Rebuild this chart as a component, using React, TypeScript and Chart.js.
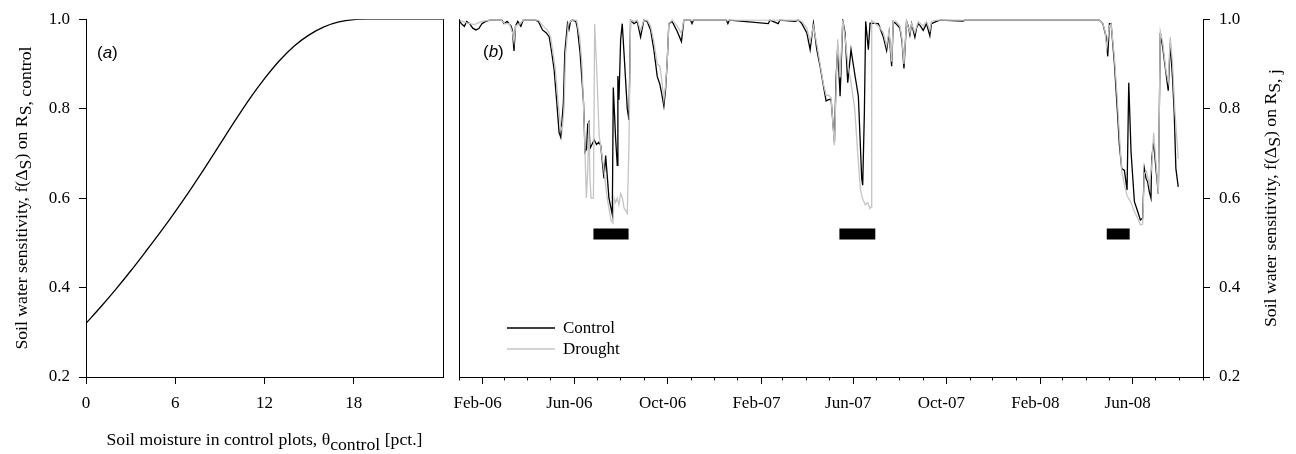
import React, { useEffect, useRef } from 'react';
import { Chart, registerables } from 'chart.js';

Chart.register(...registerables);

const SERIF = "'Liberation Serif', 'Times New Roman', serif";
const SANS = "'Liberation Sans', Arial, sans-serif";

// ---- Panel (a): sensitivity function against control soil moisture ----
const moistureValues = [0, 1, 2, 3, 4, 5, 6, 7, 8, 9, 10, 11, 12, 13, 14, 15, 16, 17, 18, 19, 20, 21, 22, 23, 24];
const sensitivityCurve = [
  0.32, 0.357, 0.396, 0.437, 0.48, 0.524, 0.57, 0.618, 0.668, 0.72, 0.772, 0.822, 0.867,
  0.907, 0.94, 0.965, 0.983, 0.994, 0.999, 1.0, 1.0, 1.0, 1.0, 1.0, 1.0,
];
const moistureTickValues = [0, 6, 12, 18];
const sensitivityTickValues = [0.2, 0.4, 0.6, 0.8, 1.0];

// ---- Panel (b): daily sensitivity, days counted from 1 Jan 2006 ----
const seriesStartUtc = Date.UTC(2006, 0, 1);
const seriesEndUtc = Date.UTC(2008, 8, 1);

const controlDays = [
  0, 3, 7, 10, 14, 18, 22, 26, 30, 35, 40, 56, 59, 63, 68, 70, 72, 74, 77, 81, 84, 100, 104,
  109.3, 114, 118, 121, 124.5, 128, 131, 133.2, 136.7, 138.5, 142, 144, 146, 148.5, 153, 155,
  158.5, 163, 165, 167, 168.5, 170, 171.5, 174, 177, 180, 183, 185.5, 189.8, 192, 196.3, 200.7,
  202, 205, 207.2, 208, 209.4, 211.6, 213.7, 216, 220.3, 222.5, 224.6, 229, 233.3, 237.7, 242,
  246.4, 250.8, 255.1, 259.5, 262.9, 265.1, 268.2, 270.3, 272.5, 274.7, 279, 285.6, 291.2, 294.3,
  303, 305, 307, 350, 352, 354, 405, 407, 418, 420, 440, 444.5, 448.8, 455.4, 459.7, 464, 468.4,
  472.7, 477.1, 480.6, 483.6, 487.1, 491.5, 493.6, 495.8, 498.9, 502.4, 505.4, 508.9, 513.2,
  518.5, 522.8, 527.2, 528.5, 530.7, 532.4, 535.9, 538.1, 549, 555.5, 559.8, 563, 566.4, 568.6,
  572, 577.2, 580, 582.5, 585.9, 588, 590.3, 592.5, 596.8, 599, 601.2, 604, 607.7, 612, 616.4,
  618.6, 625, 630, 660, 662, 835, 838.4, 842.8, 847.1, 849.3, 851.5, 853.7, 858, 861.5, 864.6,
  867.6, 871.1, 874.6, 876.8, 879.8, 884.2, 888.5, 892, 895, 897.2, 899.4, 901.6, 903.7, 905.9,
  906.8, 909.4, 912.4, 915.5, 918.1, 921.1, 925.5, 928.5, 931.1, 934.2, 936.3, 938.5, 941.6,
];
const controlSensitivity = [
  0.998, 0.99, 0.984, 0.995, 0.99, 0.98, 0.976, 0.979, 0.99, 0.995, 0.998, 0.998, 0.99, 0.995,
  0.985, 0.975, 0.929, 0.985, 0.995, 0.984, 0.998, 0.998, 0.995,
  0.976, 0.97, 0.961, 0.93, 0.888, 0.814, 0.747, 0.736, 0.814, 0.925, 0.99, 0.977, 0.995, 0.998,
  0.995, 0.98,
  0.925, 0.814, 0.703, 0.71, 0.765, 0.77, 0.711, 0.72, 0.73, 0.72, 0.725, 0.718, 0.644, 0.695,
  0.6, 0.563,
  0.847, 0.735, 0.673, 0.873, 0.82, 0.954, 0.99, 0.925, 0.8, 0.775, 0.998, 0.99, 0.995, 0.96,
  0.998,
  0.995, 0.976, 0.932, 0.872, 0.855, 0.836, 0.806, 0.84, 0.902, 0.99, 0.995, 0.973, 0.95, 0.998,
  0.998, 0.99, 0.998, 0.998, 0.99, 0.998, 0.99, 0.998, 0.99, 0.998, 0.995, 0.998, 0.99, 0.969,
  0.932, 0.991, 0.932,
  0.895, 0.851, 0.817, 0.82, 0.821, 0.725, 0.866, 0.939, 0.828, 0.998, 0.969, 0.858, 0.932,
  0.873, 0.828, 0.644, 0.629, 0.792, 0.995, 0.932, 0.991, 0.99, 0.96, 0.93, 0.97, 0.895, 0.995,
  0.99, 0.98, 0.95, 0.89, 0.995, 0.985, 0.965, 0.99, 0.96, 0.98, 0.99, 0.985, 0.975, 0.99, 0.963,
  0.99, 0.995, 0.998, 0.996, 0.998, 0.998, 0.998, 0.99, 0.961, 0.917, 0.99, 0.99, 0.902, 0.806,
  0.718,
  0.666, 0.662, 0.618, 0.858, 0.703, 0.592, 0.57, 0.551, 0.555, 0.666, 0.644, 0.636, 0.614, 0.6,
  0.688, 0.725, 0.666, 0.61, 0.969, 0.939, 0.88, 0.84, 0.947, 0.866, 0.792, 0.666, 0.625,
];

const droughtDays = [
  0, 10, 20, 30, 40, 55, 60, 66, 70, 72, 74, 80, 84, 104, 110, 116, 120, 126, 130, 133, 135,
  137.5, 139.5, 143, 148, 154, 158, 161, 164, 166.7, 168.5, 170, 171.5, 173, 176, 177.6, 180,
  183.5, 186, 190, 194, 199, 201.6, 203, 205, 207.2, 209.4, 211.6, 214, 216, 220.3, 222.5, 224.6,
  229, 233.3, 237.7, 242, 246.4, 250.8, 255.1, 259.5, 262.9, 265.1, 268.2, 270.3, 272.5, 274.7,
  279, 285.6, 291.2, 294.3, 440, 444.5, 448.8, 455.4, 459.7, 464, 468.4, 472.7, 477.1, 480.6,
  483.6, 487.1, 491.5, 493.6, 495.8, 498.9, 502.4, 505.4, 509, 513, 518, 522, 525.5, 528, 532,
  535, 538, 539.5, 540.3, 545, 549, 555.5, 559.8, 563, 566.4, 568.6, 572, 577.2, 580, 582.5,
  585.9, 590.3, 592.5, 596.8, 601.2, 607.7, 612, 616.4, 618.6, 625, 838.4, 842.8, 845.5, 848,
  851.5, 853.7, 858, 861.5, 864.6, 867.6, 871.1, 874.6, 879.8, 884.2, 888.5, 892, 895, 897.2,
  900, 903.7, 906.8, 909.4, 912.4, 915.5, 918.1, 921.1, 925.5, 928.5, 931.1, 934.2, 937, 941.6,
];
const droughtSensitivity = [
  0.998, 0.992, 0.988, 0.995, 0.998, 0.998, 0.99, 0.99, 0.97, 0.95, 0.985, 0.99, 0.998, 0.998,
  0.985, 0.975, 0.96, 0.89, 0.81, 0.76, 0.75,
  0.8, 0.92, 0.99, 0.998, 0.998, 0.96, 0.9, 0.76, 0.6, 0.66, 0.77, 0.64, 0.6, 0.6, 0.99, 0.9,
  0.74, 0.71, 0.66, 0.6, 0.55, 0.544, 0.6, 0.59, 0.6, 0.585, 0.61, 0.6, 0.578, 0.566, 0.72, 0.998,
  0.995, 0.998, 0.975, 0.998, 0.998, 0.985, 0.95, 0.9, 0.895, 0.87, 0.82, 0.85, 0.902, 0.99,
  0.998, 0.985, 0.968, 0.998, 0.998, 0.998, 0.995, 0.98, 0.95, 0.985, 0.945, 0.9, 0.855, 0.83,
  0.83, 0.825, 0.718, 0.84, 0.955, 0.87, 0.998, 0.96, 0.9, 0.86, 0.8, 0.7, 0.62, 0.6, 0.585,
  0.59, 0.577, 0.58, 0.998, 0.99, 0.985, 0.97, 0.94, 0.975, 0.905, 0.995, 0.995, 0.985, 0.955, 0.9,
  0.995, 0.97, 0.99, 0.97, 0.995, 0.985, 0.995, 0.975, 0.995, 0.998, 0.998, 0.99, 0.975, 0.935,
  0.985, 0.99, 0.915, 0.83, 0.74, 0.66, 0.63, 0.605, 0.59, 0.57, 0.555, 0.54, 0.542, 0.655,
  0.66, 0.63, 0.67, 0.746, 0.68, 0.61, 0.973, 0.95, 0.885, 0.86, 0.96, 0.9, 0.8, 0.688,
];

// Rain-exclusion periods (drought treatment), drawn as thick bars
const roofStartDays = [176, 498, 848];
const roofEndDays = [222, 545, 878];
const roofLevel = 0.52;

const monthNames = ['Jan', 'Feb', 'Mar', 'Apr', 'May', 'Jun', 'Jul', 'Aug', 'Sep', 'Oct', 'Nov', 'Dec'];
const majorMonthLabels = ['Feb-06', 'Jun-06', 'Oct-06', 'Feb-07', 'Jun-07', 'Oct-07', 'Feb-08', 'Jun-08'];

const DAY_MS = 86400000;
const seriesLengthDays = (seriesEndUtc - seriesStartUtc) / DAY_MS;

function monthTicks() {
  const out: { day: number; label: string; major: boolean }[] = [];
  for (let y = 2006; y <= 2008; y++) {
    for (let m = 0; m < 12; m++) {
      const t = Date.UTC(y, m, 1);
      if (t > seriesEndUtc) break;
      const label = `${monthNames[m]}-${String(y % 100).padStart(2, '0')}`;
      out.push({ day: (t - seriesStartUtc) / DAY_MS, label, major: majorMonthLabels.includes(label) });
    }
  }
  return out;
}

type Seg = { t: string; sub?: boolean; italic?: boolean };

function drawRich(
  ctx: CanvasRenderingContext2D,
  segs: Seg[],
  x: number,
  y: number,
  opts: { rotate?: boolean; size: number; family: string; subDy?: number; align?: 'center' | 'left' },
) {
  ctx.save();
  ctx.translate(x, y);
  if (opts.rotate) ctx.rotate(-Math.PI / 2);
  ctx.fillStyle = '#000';
  ctx.textBaseline = 'alphabetic';
  ctx.textAlign = 'left';
  const fontFor = (s: Seg) => `${s.italic ? 'italic ' : ''}${opts.size}px ${opts.family}`;
  const widths = segs.map((s) => {
    ctx.font = fontFor(s);
    return ctx.measureText(s.t).width;
  });
  const total = widths.reduce((a, b) => a + b, 0);
  let cx = opts.align === 'left' ? 0 : -total / 2;
  segs.forEach((s, i) => {
    ctx.font = fontFor(s);
    ctx.fillText(s.t, cx, s.sub ? opts.subDy ?? 4 : 0);
    cx += widths[i];
  });
  ctx.restore();
}

const align = (p: number) => Math.round(p - 0.5) + 0.5;

const LEFT_W = 450;
const RIGHT_W = 846;
const H = 454;
const TITLE_SIZE = 17.7;

export default function App() {
  const leftRef = useRef<HTMLCanvasElement>(null);
  const rightRef = useRef<HTMLCanvasElement>(null);

  useEffect(() => {
    if (!leftRef.current || !rightRef.current) return;

    const tickFont = { family: SERIF, size: 17 };

    const leftDecor = {
      id: 'leftDecor',
      afterDraw(chart: Chart) {
        const { ctx, chartArea } = chart;
        ctx.save();
        ctx.strokeStyle = '#000';
        ctx.lineWidth = 1;
        ctx.beginPath();
        const rx = align(chartArea.right);
        ctx.moveTo(rx, chartArea.top);
        ctx.lineTo(rx, chartArea.bottom);
        ctx.stroke();
        ctx.restore();

        drawRich(ctx, [{ t: '(' }, { t: 'a', italic: true }, { t: ')' }], 97, 58, {
          size: 17,
          family: SANS,
          align: 'left',
        });

        drawRich(
          ctx,
          [
            { t: 'Soil water sensitivity, f(Δ' },
            { t: 'S', sub: true },
            { t: ') on R' },
            { t: 'S, control', sub: true },
          ],
          27,
          (chartArea.top + chartArea.bottom) / 2,
          { rotate: true, size: TITLE_SIZE, family: SERIF, subDy: 4 },
        );

        drawRich(
          ctx,
          [
            { t: 'Soil moisture in control plots, θ' },
            { t: 'control', sub: true },
            { t: ' [pct.]' },
          ],
          (chartArea.left + chartArea.right) / 2,
          445,
          { size: TITLE_SIZE, family: SERIF, subDy: 5 },
        );
      },
    };

    const left = new Chart(leftRef.current, {
      type: 'line',
      data: {
        datasets: [
          {
            data: moistureValues.map((x, i) => ({ x, y: sensitivityCurve[i] })),
            borderColor: '#000',
            borderWidth: 1.3,
            pointRadius: 0,
            cubicInterpolationMode: 'monotone',
            fill: false,
          },
        ],
      },
      options: {
        responsive: false,
        animation: false,
        events: [],
        layout: { padding: { left: 0, top: 16, right: 7, bottom: 0 } },
        plugins: { legend: { display: false }, tooltip: { enabled: false } },
        scales: {
          x: {
            type: 'linear',
            min: 0,
            max: 24,
            afterBuildTicks: (s: any) => {
              s.ticks = moistureTickValues.map((v) => ({ value: v }));
            },
            afterFit: (s: any) => {
              s.height = 77;
            },
            ticks: { font: tickFont, color: '#000', padding: 9, maxRotation: 0, autoSkip: false },
            grid: { drawOnChartArea: false, tickLength: 7, tickColor: '#000', tickWidth: 1 },
            border: { color: '#000', width: 1 },
          },
          y: {
            type: 'linear',
            min: 0.2,
            max: 1.0,
            afterBuildTicks: (s: any) => {
              s.ticks = sensitivityTickValues.map((v) => ({ value: v }));
            },
            afterFit: (s: any) => {
              s.width = 86;
            },
            ticks: {
              font: tickFont,
              color: '#000',
              padding: 9,
              callback: (v: any) => Number(v).toFixed(1),
            },
            grid: { drawOnChartArea: false, tickLength: 7, tickColor: '#000', tickWidth: 1 },
            border: { color: '#000', width: 1 },
          },
        },
      },
      plugins: [leftDecor],
    } as any);

    const months = monthTicks();

    const rightDecor = {
      id: 'rightDecor',
      afterDraw(chart: Chart) {
        const { ctx, chartArea } = chart;
        const xs: any = chart.scales.x;
        ctx.save();
        ctx.strokeStyle = '#000';
        ctx.lineWidth = 1;
        ctx.beginPath();
        const lx = align(chartArea.left);
        ctx.moveTo(lx, chartArea.top);
        ctx.lineTo(lx, chartArea.bottom);
        months
          .filter((m) => !m.major)
          .forEach((m) => {
            const px = align(xs.getPixelForValue(m.day));
            ctx.moveTo(px, chartArea.bottom);
            ctx.lineTo(px, chartArea.bottom + 3.5);
          });
        ctx.stroke();

        // legend
        const legendItems = [
          { label: 'Control', color: '#000', y: 328 },
          { label: 'Drought', color: '#c4c4c4', y: 349 },
        ];
        legendItems.forEach((it) => {
          ctx.strokeStyle = it.color;
          ctx.lineWidth = 1.3;
          ctx.beginPath();
          ctx.moveTo(57, it.y);
          ctx.lineTo(105, it.y);
          ctx.stroke();
          ctx.fillStyle = '#000';
          ctx.font = `17px ${SERIF}`;
          ctx.textBaseline = 'middle';
          ctx.textAlign = 'left';
          ctx.fillText(it.label, 113, it.y + 1);
        });
        ctx.restore();

        drawRich(ctx, [{ t: '(' }, { t: 'b', italic: true }, { t: ')' }], 33, 57, {
          size: 17,
          family: SANS,
          align: 'left',
        });

        drawRich(
          ctx,
          [
            { t: 'Soil water sensitivity, f(Δ' },
            { t: 'S', sub: true },
            { t: ') on R' },
            { t: 'S, j', sub: true },
          ],
          826,
          (chartArea.top + chartArea.bottom) / 2,
          { rotate: true, size: TITLE_SIZE, family: SERIF, subDy: 4 },
        );
      },
    };

    const roofDatasets = roofStartDays.map((start, i) => ({
      data: [
        { x: start, y: roofLevel },
        { x: roofEndDays[i], y: roofLevel },
      ],
      borderColor: '#000',
      borderWidth: 11,
      borderCapStyle: 'butt',
      pointRadius: 0,
      fill: false,
    }));

    const right = new Chart(rightRef.current, {
      type: 'line',
      data: {
        datasets: [
          {
            label: 'Drought',
            data: droughtDays.map((x, i) => ({ x, y: droughtSensitivity[i] })),
            borderColor: '#c4c4c4',
            borderWidth: 1.3,
            pointRadius: 0,
            fill: false,
          },
          {
            label: 'Control',
            data: controlDays.map((x, i) => ({ x, y: controlSensitivity[i] })),
            borderColor: '#000',
            borderWidth: 1.3,
            pointRadius: 0,
            fill: false,
          },
          ...roofDatasets,
        ],
      },
      options: {
        responsive: false,
        animation: false,
        events: [],
        layout: { padding: { left: 8, top: 16, right: 0, bottom: 0 } },
        plugins: { legend: { display: false }, tooltip: { enabled: false } },
        scales: {
          x: {
            type: 'linear',
            min: 0,
            max: seriesLengthDays,
            afterBuildTicks: (s: any) => {
              s.ticks = months.map((m) => ({ value: m.day }));
            },
            afterFit: (s: any) => {
              s.height = 77;
            },
            ticks: {
              font: tickFont,
              color: '#000',
              padding: 9,
              labelOffset: -5,
              maxRotation: 0,
              minRotation: 0,
              autoSkip: false,
              callback: (v: any) => {
                const m = months.find((mm) => Math.abs(mm.day - Number(v)) < 0.01);
                return m && m.major ? m.label : '';
              },
            },
            grid: {
              drawOnChartArea: false,
              tickLength: 7,
              tickWidth: 1,
              tickColor: (c: any) => {
                const m = months.find((mm) => Math.abs(mm.day - c.tick?.value) < 0.01);
                return m && m.major ? '#000' : 'rgba(0,0,0,0)';
              },
            },
            border: { color: '#000', width: 1 },
          },
          y: {
            type: 'linear',
            position: 'right',
            min: 0.2,
            max: 1.0,
            afterBuildTicks: (s: any) => {
              s.ticks = sensitivityTickValues.map((v) => ({ value: v }));
            },
            afterFit: (s: any) => {
              s.width = 93;
            },
            ticks: {
              font: tickFont,
              color: '#000',
              padding: 9,
              callback: (v: any) => Number(v).toFixed(1),
            },
            grid: { drawOnChartArea: false, tickLength: 7, tickColor: '#000', tickWidth: 1 },
            border: { color: '#000', width: 1 },
          },
        },
      },
      plugins: [rightDecor],
    } as any);

    return () => {
      left.destroy();
      right.destroy();
    };
  }, []);

  return (
    <div style={{ position: 'fixed', left: 0, top: 0, width: 1296, height: H, background: '#fff' }}>
      <canvas
        ref={leftRef}
        width={LEFT_W}
        height={H}
        style={{ position: 'absolute', left: 0, top: 0, width: LEFT_W, height: H }}
      />
      <canvas
        ref={rightRef}
        width={RIGHT_W}
        height={H}
        style={{ position: 'absolute', left: LEFT_W, top: 0, width: RIGHT_W, height: H }}
      />
    </div>
  );
}
